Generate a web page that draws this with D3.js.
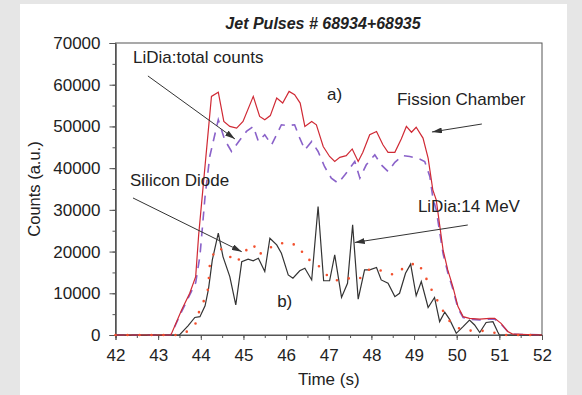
<!DOCTYPE html>
<html><head><meta charset="utf-8">
<script src="https://cdn.jsdelivr.net/npm/d3@7"></script>
<style>
html,body{margin:0;padding:0;background:#fff;}
svg{display:block;font-family:"Liberation Sans",Arial,sans-serif;}
</style></head>
<body><svg id="c" width="582" height="395"></svg>
<script>
// ---- data ----
const title = "Jet Pulses # 68934+68935";
const xLabel = "Time (s)";
const yLabel = "Counts (a.u.)";
const xTicks = [42,43,44,45,46,47,48,49,50,51,52];
const yTicks = [0,10000,20000,30000,40000,50000,60000,70000];

const fissionT = [42,43.3,43.55,43.74,43.88,43.95,44.25,44.41,44.54,44.68,44.84,44.99,45.23,45.38,45.5,45.63,45.78,45.92,46.07,46.2,46.33,46.44,46.6,46.71,46.87,47.02,47.14,47.26,47.41,47.55,47.69,47.8,47.96,48.12,48.27,48.39,48.55,48.7,48.82,48.94,49.05,49.21,49.33,49.44,49.52,49.68,49.79,49.91,50.03,50.15,50.3,50.54,50.77,50.89,51.04,51.2,51.32,52];
const fissionV = [0,0,6000,10000,14000,24000,57200,58200,51200,50000,49600,51200,57200,52400,51600,52600,56800,55600,58400,57600,55600,50000,51200,50400,45200,42800,41600,42600,43000,44600,41600,43800,48000,48800,45600,43800,43800,47000,50000,48600,49800,47200,42400,34800,32400,20400,15600,11600,6800,4400,4000,3800,4000,4000,2800,800,200,0];

const lidiaTotT = [42,43.3,43.55,43.74,43.88,43.98,44.1,44.21,44.41,44.56,44.72,44.92,45.07,45.23,45.35,45.5,45.66,45.89,46.05,46.2,46.32,46.44,46.6,46.75,46.9,47.06,47.22,47.38,47.61,47.73,47.88,48.08,48.23,48.39,48.55,48.74,48.9,49.13,49.25,49.37,49.44,49.52,49.68,49.79,49.91,50.03,50.15,50.3,50.54,50.77,50.89,51.04,51.2,51.32,52];
const lidiaTotV = [0,0,5600,9600,12500,19000,33200,42800,51600,46800,44000,46800,48800,50000,46400,48000,45600,50400,50200,50400,47200,44400,46400,44000,40400,37600,36400,38400,41600,37600,40800,43200,40800,39200,41400,43000,42800,42200,41600,38000,33000,30000,19500,15000,11000,6400,4200,3800,3600,3800,3800,2600,800,200,0];

const diodeT = [42,43.5,43.7,43.86,43.98,44.1,44.18,44.27,44.41,44.52,44.68,44.82,44.96,45.11,45.23,45.35,45.5,45.62,45.78,45.89,46.05,46.16,46.32,46.44,46.6,46.75,46.88,47.02,47.14,47.3,47.44,47.56,47.69,47.84,47.96,48.12,48.23,48.39,48.55,48.66,48.8,48.92,49.05,49.17,49.33,49.48,49.6,49.72,49.83,49.99,50.15,50.3,50.42,50.54,50.69,50.85,50.96,51.0,52];
const diodeV = [0,0,2200,4200,4400,7000,11000,18000,24400,18800,14000,7200,17600,18200,17800,18400,15200,23200,21600,19600,14400,13600,15400,16000,13200,30800,13000,13000,19200,9000,12400,26400,8600,15600,15600,16200,13200,12400,9200,10000,14800,17000,9400,12800,6600,9000,3200,5500,3800,400,2000,3600,2400,600,3000,3200,800,0,0];

const mev14T = [42,43.5,43.67,43.9,43.96,44.08,44.17,44.21,44.3,44.43,44.6,44.84,45.03,45.23,45.35,45.55,45.78,46.05,46.32,46.44,46.71,46.87,47.14,47.43,47.71,47.96,48.26,48.53,48.8,49.09,49.25,49.37,49.51,49.64,49.83,50.08,50.37,50.61,50.86,51.1,52];
const mev14V = [0,0,800,3000,5600,8400,11000,16600,19500,21000,19500,17400,20000,21800,19200,20500,21800,22200,21200,18400,17400,15000,13000,13600,13400,15800,15400,14400,16400,17400,14400,11600,9000,6400,3400,1400,1000,1000,600,0,0];

// annotations (data coordinates)
const labelTexts = ["LiDia:total counts","a)","Fission Chamber","Silicon Diode","LiDia:14 MeV","b)"];
const labelT = [42.41,46.96,48.60,42.34,49.09,45.79];
const labelV = [65200,56340,55140,35720,29490,6710];
const arrowFromT = [42.76,42.41,50.59,50.26];
const arrowFromV = [62100,32850,50580,26370];
const arrowToT = [44.80,44.96,49.42,47.61];
const arrowToV = [47000,19970,48670,22180];

// ---- drawing ----
const svg = d3.select("#c");
const L = 115.5, R = 542, T = 43, B = 335;
const FS = 17;
const x = d3.scaleLinear().domain([42,52]).range([L,R]);
const y = d3.scaleLinear().domain([0,70000]).range([B,T]);

// grey frame
svg.append("rect").attr("x",0).attr("y",0).attr("width",582).attr("height",395).attr("fill","#e6e6e6");
svg.append("rect").attr("x",20).attr("y",4).attr("width",547).attr("height",391).attr("fill","#fff");

const defs = svg.append("defs");
defs.append("marker").attr("id","ah").attr("viewBox","0 0 10 6").attr("refX",10).attr("refY",3)
  .attr("markerWidth",10).attr("markerHeight",6).attr("markerUnits","userSpaceOnUse").attr("orient","auto")
  .append("path").attr("d","M0,0L10,3L0,6Z").attr("fill","#333");

// plot box
svg.append("rect").attr("x",L).attr("y",T).attr("width",R-L).attr("height",B-T)
  .attr("fill","none").attr("stroke","#555").attr("stroke-width",1);

const axisColor = "#555";
function styleAxis(g){
  g.select(".domain").attr("stroke",axisColor);
  g.selectAll(".tick line").attr("stroke",axisColor);
  g.selectAll(".tick text").attr("fill","#222").attr("font-size",FS);
}
// y axis
const yMinor = d3.range(0,70001,5000);
svg.append("g").attr("transform",`translate(${L},0)`)
  .call(d3.axisLeft(y).tickValues(yMinor).tickSize(3).tickFormat(""))
  .call(styleAxis);
svg.append("g").attr("transform",`translate(${L},0)`)
  .call(d3.axisLeft(y).tickValues(yTicks).tickSize(6).tickPadding(9).tickFormat(d3.format("d")))
  .call(styleAxis);
// x axis
const xMinor = d3.range(42,52.01,0.5);
svg.append("g").attr("transform",`translate(0,${B})`)
  .call(d3.axisBottom(x).tickValues(xMinor).tickSize(3).tickFormat(""))
  .call(styleAxis);
svg.append("g").attr("transform",`translate(0,${B})`)
  .call(d3.axisBottom(x).tickValues(xTicks).tickSize(5).tickPadding(9).tickFormat(d3.format("d")))
  .call(styleAxis);

// titles
svg.append("text").attr("x",323).attr("y",29).attr("text-anchor","middle")
  .attr("font-size",16).attr("font-weight","bold").attr("font-style","italic").attr("fill","#222").text(title);
svg.append("text").attr("x",(L+R)/2).attr("y",385).attr("text-anchor","middle")
  .attr("font-size",FS).attr("fill","#222").text(xLabel);
svg.append("text").attr("transform",`translate(40,${(T+B)/2}) rotate(-90)`).attr("text-anchor","middle")
  .attr("font-size",16.5).attr("fill","#222").text(yLabel);

// series
const line = d3.line().x(d=>x(d[0])).y(d=>y(d[1]));
const zip = (a,b)=>a.map((v,i)=>[v,b[i]]);
const plot = svg.append("g");
plot.append("path").datum(zip(lidiaTotT,lidiaTotV)).attr("d",line).attr("fill","none")
  .attr("stroke","#8a62c9").attr("stroke-width",1.6).attr("stroke-dasharray","9,7");
plot.append("path").datum(zip(diodeT,diodeV)).attr("d",line).attr("fill","none")
  .attr("stroke","#333").attr("stroke-width",1.2);
plot.append("path").datum(zip(fissionT,fissionV)).attr("d",line).attr("fill","none")
  .attr("stroke","#d02a35").attr("stroke-width",1.2);
plot.append("path").datum(zip(mev14T,mev14V)).attr("d",line).attr("fill","none")
  .attr("stroke","#f2502e").attr("stroke-width",2.6).attr("stroke-linecap","round").attr("stroke-dasharray","0,12");

// annotations
labelTexts.forEach((s,i)=>{
  svg.append("text").attr("x",x(labelT[i])).attr("y",y(labelV[i])).attr("font-size",FS).attr("fill","#222").text(s);
});
arrowFromT.forEach((t,i)=>{
  svg.append("line").attr("x1",x(t)).attr("y1",y(arrowFromV[i])).attr("x2",x(arrowToT[i])).attr("y2",y(arrowToV[i]))
    .attr("stroke","#333").attr("stroke-width",1).attr("marker-end","url(#ah)");
});
</script></body></html>
